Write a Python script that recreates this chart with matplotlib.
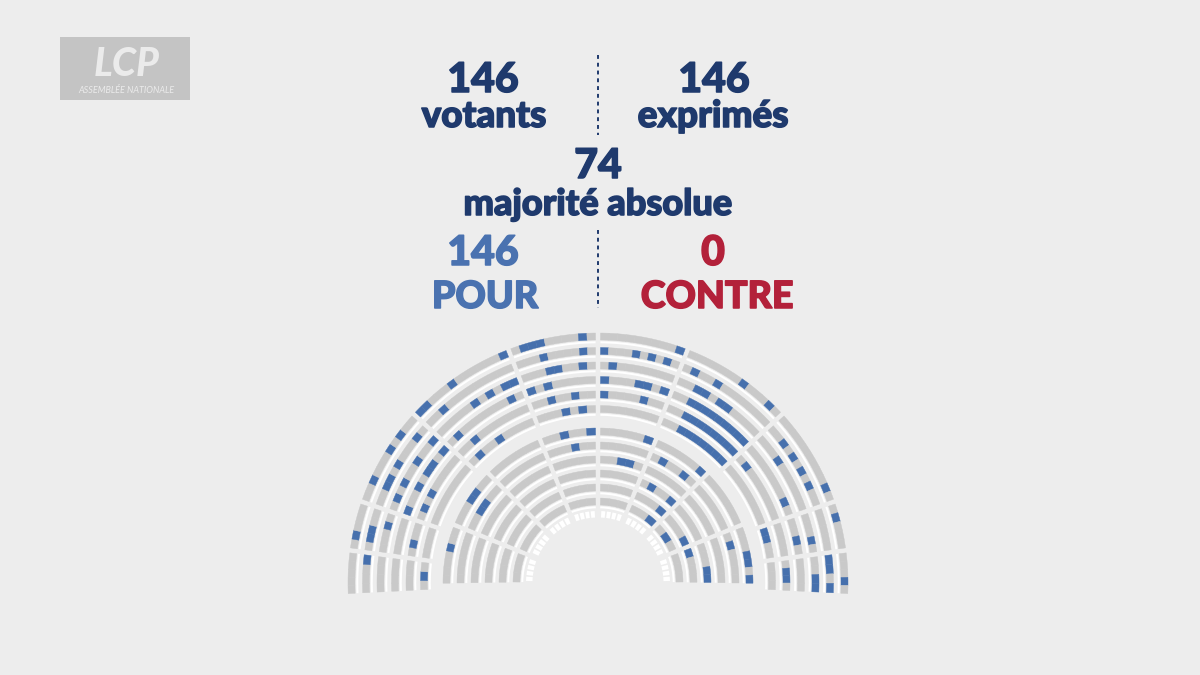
import numpy as np
import matplotlib
matplotlib.use("Agg")
import matplotlib.pyplot as plt
import matplotlib.patheffects as pe
from matplotlib.patches import Wedge, Rectangle

# ---------------- data ----------------
votants = 146
exprimes = 146
majorite = 74
pour = 146
contre = 0

# Seat states per row of the hemicycle (outer -> inner), sectors separated by '|'
# g = other deputy, b = voted "pour", w = empty seat
outer_rows = [
    "ggggg|gbggg|ggbgggbgbgg|bbgggbggggggb|gbbbggggbg|gggggggggb|gggggggbgggbg|gggggggggbg|gbggg|gggbg",
    "gggb|gbbgg|ggbbgbgggbg|ggbggggggggg|gggbggggbg|bgggbgbgbg|gbggbggggggg|ggbgbgbgbgg|ggggg|bbgb",
    "gggg|gggbg|gbgbggbggb|gggggbgbgbb|gggbbggbg|gbggggggg|ggbbgbbgggg|gggbgggggg|gggbg|ggbb",
    "gggg|gggg|bggbgbbgb|gbgggggggbg|bgbggggg|bgggbbgb|ggbbbbbbbbb|gggggggbg|ggbg|gggg",
    "gggg|gbgg|gbgbggggg|ggbggggggg|ggbggbgg|bggggbgg|ggbbbbbbbb|gbggggggg|gggg|gbbg",
    "gbg|gggg|gggggggg|gbggbgggg|gggbgbg|ggggggg|ggbbbbbbb|gggggggg|bbgg|ggg",
]
inner_rows = [
    "ggggbgg|gggbbgg|ggggggg|ggbggb|gggggb|ggggggb|ggggggg|gggbbgb",
    "gggggg|ggbbgg|gggggg|gggbgg|gggggg|gbggbg|gggggg|gbgggg",
    "ggggg|ggggg|ggggg|ggggg|ggbbg|ggggg|ggggg|ggggg",
    "ggggg|ggggg|ggggg|gggg|gggg|gbggb|ggggg|gggbb",
    "gggg|gggg|gggg|gggg|gggg|gggb|gggb|bggg",
    "ggg|ggg|ggg|ggg|ggg|ggb|gbg|ggg",
    "wwww|wwww|wwww|wwww|wwww|wwww|wwww|wwww",
]

# ---------------- layout ----------------
W, H = 1200, 675
BG = "#ededed"
NAVY = "#1f3a6d"
BLUE_TXT = "#4a72b0"
RED_TXT = "#b3213a"
seat_colors = {"g": "#c9c9c9", "b": "#4670ad", "w": "#ffffff"}

outer_aisles = [183, 172.5, 161, 137.5, 111, 90, 69, 42.5, 19, 7.5, -3]
inner_aisles = [181, 158, 135, 112, 90, 68, 45, 22, -1]
outer_radii = [250, 235.5, 221, 206.5, 192, 177.5]
inner_radii = [155, 141, 127, 113, 99, 85, 72]

CX, CY = 598, H - 583
SEAT_T = 7.0
AISLE = 2.5

fig = plt.figure(figsize=(12, 6.75), dpi=100)
fig.patch.set_facecolor(BG)
ax = fig.add_axes([0, 0, 1, 1])
ax.set_xlim(0, W)
ax.set_ylim(0, H)
ax.set_aspect("equal")
ax.axis("off")
ax.set_facecolor(BG)


def draw_row(r, pattern, bounds, bench=True, thick=SEAT_T, sgap=0.0):
    for k, sec in enumerate(pattern.split("|")):
        a0, a1 = bounds[k], bounds[k + 1]
        g = np.degrees(AISLE / r)
        lo, hi = a1 + g, a0 - g
        n = len(sec)
        w = (hi - lo) / n
        sg = np.degrees(sgap / 2 / r)
        for i, ch in enumerate(sec):
            t2 = hi - i * w - sg
            t1 = hi - (i + 1) * w + sg
            col = seat_colors[ch]
            ax.add_patch(Wedge((CX, CY), r, t1, t2, width=thick,
                               facecolor=col,
                               edgecolor=col if sgap == 0 else "none",
                               lw=0.3 if sgap == 0 else 0))
        if bench:
            ax.add_patch(Wedge((CX, CY), r - thick - 1.3, lo, hi, width=2.0,
                               facecolor="white", edgecolor="none"))


for r, pat in zip(outer_radii, outer_rows):
    draw_row(r, pat, outer_aisles)
for r, pat in zip(inner_radii, inner_rows):
    if "w" in pat:
        draw_row(r, pat, inner_aisles, bench=False, thick=6.5, sgap=1.6)
    else:
        draw_row(r, pat, inner_aisles)


def ty(y):
    return H - y


def label(x, y, s, color, fs):
    t = ax.text(x, ty(y), s, color=color, ha="center", va="baseline",
                family="Lato", fontweight="black", fontsize=fs)
    t.set_path_effects([pe.Stroke(linewidth=1.1, foreground=color), pe.Normal()])


label(483, 92, f"{votants}", NAVY, 29.5)
label(484, 127, "votants", NAVY, 26.5)
label(714, 92, f"{exprimes}", NAVY, 29.5)
label(713, 127, "exprimés", NAVY, 26.5)
label(598, 178, f"{majorite}", NAVY, 29.5)
label(598, 215, "majorité absolue", NAVY, 26)
label(483, 265, f"{pour}", BLUE_TXT, 29.5)
label(485, 308, "POUR", BLUE_TXT, 27)
label(713, 265, f"{contre}", RED_TXT, 29.5)
label(717, 308, "CONTRE", RED_TXT, 27)

for y0, y1 in [(55, 135), (230, 308)]:
    ax.plot([598, 598], [ty(y0), ty(y1)], color=NAVY, lw=1.4,
            dashes=(2, 2), solid_capstyle="butt")

# LCP logo
ax.add_patch(Rectangle((60, ty(100)), 130, 63, facecolor="#c4c4c4", edgecolor="none"))
ax.text(127, ty(76), "LCP", color="#ebebeb", ha="center", va="baseline",
        family="Lato", fontweight="black", fontstyle="italic", fontsize=28)
ax.text(126, ty(93), "ASSEMBLÉE NATIONALE", color="#ebebeb", ha="center", va="baseline",
        family="Lato", fontstyle="italic", fontsize=6.5)

fig.savefig("out.png", dpi=100, facecolor=BG)
